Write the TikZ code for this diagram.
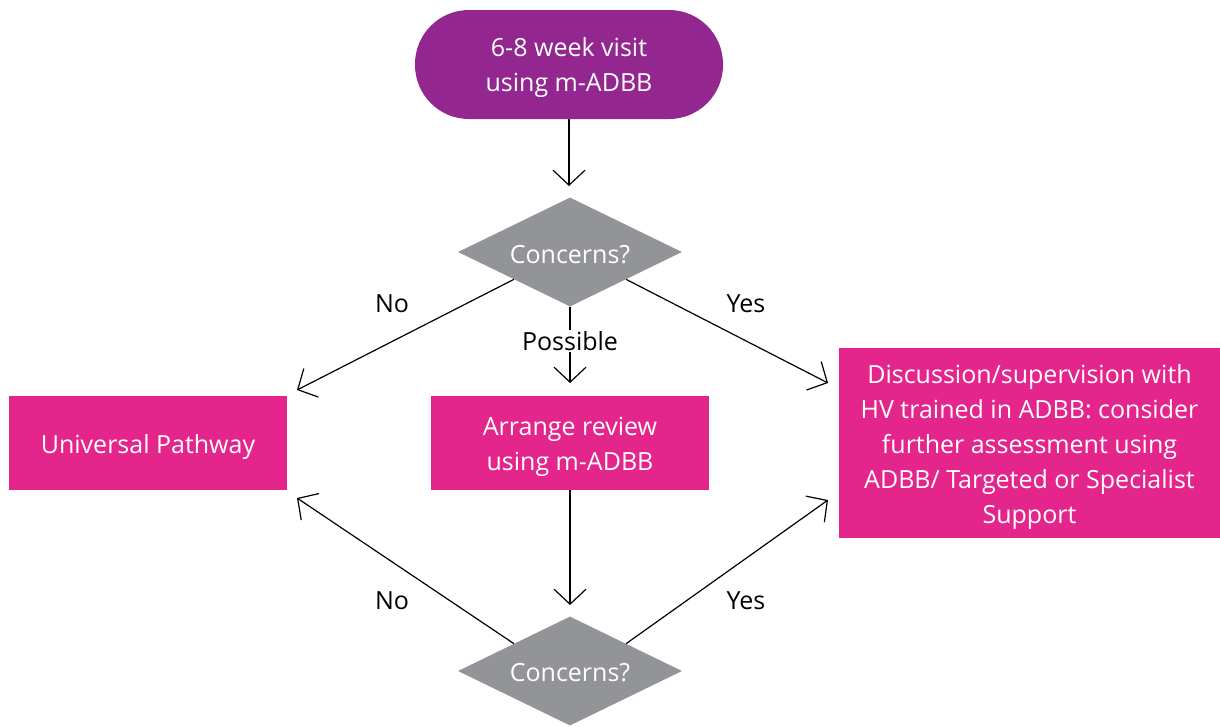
\documentclass[tikz,border=0pt]{standalone}
\usepackage{fontspec}
\setmainfont{Open Sans}
\usetikzlibrary{shapes.geometric,arrows.meta}
\definecolor{cpurple}{RGB}{147,39,143}
\definecolor{cpink}{RGB}{228,38,140}
\definecolor{cgrey}{RGB}{147,148,152}
\tikzset{
  txt/.style={font=\fontsize{25}{35}\selectfont, align=center},
  term/.style={rectangle, rounded corners=54pt, fill=cpurple, minimum width=308pt, minimum height=109pt, inner sep=0pt},
  pinkbox/.style={rectangle, fill=cpink, inner sep=0pt},
  decision/.style={diamond, fill=cgrey, aspect=2.05, minimum width=224pt, minimum height=109pt, inner sep=0pt},
  wtxt/.style={txt, text=white},
  conn/.style={draw=black, line width=1.2pt, -{Straight Barb[length=15pt,width=32pt,line width=1.2pt]}},
  lbl/.style={txt, text=black, inner sep=2pt},
}
\begin{document}
\begin{tikzpicture}[x=1pt,y=-1pt]
\useasboundingbox (0,0) rectangle (1220,726);
\node[term] (start) at (569,64.5) {};
\node[wtxt] (startt) at (569,68) {6-8 week visit\\using m-ADBB};
\node[decision] (d1) at (570,252) {};
\node[wtxt] (d1t) at (570,255) {Concerns?};
\node[pinkbox, minimum width=278pt, minimum height=94pt] (univ) at (148,443) {};
\node[wtxt] (univt) at (148,447) {Universal Pathway};
\node[pinkbox, minimum width=278pt, minimum height=94pt] (review) at (570,443) {};
\node[wtxt] (reviewt) at (570,447) {Arrange review\\using m-ADBB};
\node[pinkbox, minimum width=381pt, minimum height=190pt] (disc) at (1029.5,443) {};
\node[wtxt] (disct) at (1029.5,447) {Discussion/supervision with\\HV trained in ADBB: consider\\further assessment using\\ADBB/ Targeted or Specialist\\Support};
\node[decision] (d2) at (570,671) {};
\node[wtxt] (d2t) at (570,673) {Concerns?};

\coordinate (univtop) at (297,390);
\coordinate (univbot) at (297,498);
\coordinate (disctop) at (828,383);
\coordinate (discbot) at (828,500);
\coordinate (revtop) at (570,383);
\coordinate (d2top) at (570,605);
\coordinate (d1top) at (569,186);

\draw[conn] (start.south) -- (d1top);
\draw[conn] (d1.south west) -- (univtop);
\draw[conn] (d1.south east) -- (disctop);
\draw[conn] (d1.south) -- (revtop);
\node[lbl, fill=white, inner sep=1pt] (poss) at (570,341) {Possible};
\draw[conn] (review.south) -- (d2top);
\draw[conn] (d2.north west) -- (univbot);
\draw[conn] (d2.north east) -- (discbot);

\node[lbl] (no1) at (392,304) {No};
\node[lbl] (yes1) at (746,304) {Yes};
\node[lbl] (no2) at (392,601) {No};
\node[lbl] (yes2) at (746,601) {Yes};
\end{tikzpicture}
\end{document}
